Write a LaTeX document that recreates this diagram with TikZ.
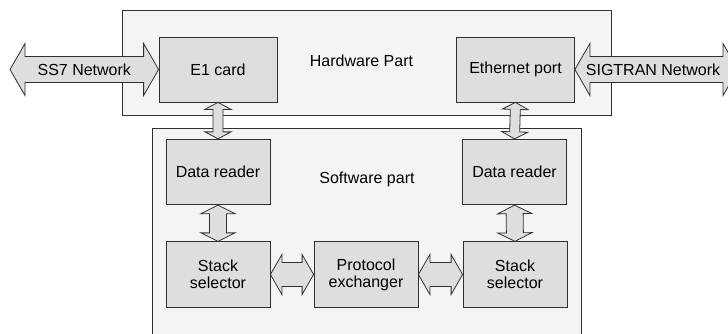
\documentclass[tikz,border=0pt]{standalone}
\usepackage{fontspec}
\setmainfont{Liberation Sans}
\usetikzlibrary{calc}

\definecolor{partfill}{HTML}{F4F4F4}
\definecolor{unitfill}{HTML}{DEDEDE}
\definecolor{edge}{HTML}{303030}

% fat double-headed arrow between two points:
% #1 start, #2 end, #3 head length, #4 head half-width, #5 shaft half-width
\newcommand\fatarrow[5]{%
  \filldraw[arrowbody]
    (#1)
    -- ($(#1)!#3!(#2)!#4!90:(#2)$)
    -- ($(#1)!#3!(#2)!#5!90:(#2)$)
    -- ($(#2)!#3!(#1)!#5!90:(#2)$)
    -- ($(#2)!#3!(#1)!#4!90:(#2)$)
    -- (#2)
    -- ($(#2)!#3!(#1)!#4!-90:(#2)$)
    -- ($(#2)!#3!(#1)!#5!-90:(#2)$)
    -- ($(#1)!#3!(#2)!#5!-90:(#2)$)
    -- ($(#1)!#3!(#2)!#4!-90:(#2)$)
    -- cycle;}

\tikzset{
  part/.style={draw=edge, fill=partfill, line width=0.8pt},
  unit/.style={draw=edge, fill=unitfill, line width=0.8pt, inner sep=0pt,
    align=center, font=\fontsize{16}{17}\selectfont},
  wideunit/.style={unit, minimum width=118pt, minimum height=65pt},
  narrowunit/.style={unit, minimum width=104pt, minimum height=65.5pt},
  arrowbody/.style={draw=edge, fill=unitfill, line width=0.8pt, line join=miter},
  caption/.style={font=\fontsize{16}{17}\selectfont, inner sep=0pt},
}

\begin{document}
\begin{tikzpicture}[x=1pt, y=-1pt]
  \useasboundingbox (0,0) rectangle (728,333);
  \clip (0,0) rectangle (728,333);
  \fill[white] (0,0) rectangle (728,333);

  % the two parts of the system
  \draw[part] (122,10) rectangle (611,115);
  \draw[part] (152,128) rectangle (581,345);
  \node[caption] (hwlabel) at (361.5,61) {Hardware Part};
  \node[caption] (swlabel) at (367,179) {Software part};

  % hardware units
  \node[wideunit] (e1)  at (218,69.5) {E1 card};
  \node[wideunit] (eth) at (515.5,69.5) {Ethernet port};

  % software units
  \node[narrowunit] (dr1) at (218,172) {Data reader};
  \node[narrowunit] (dr2) at (514.5,172) {Data reader};
  \node[narrowunit] (ss1) at (218,274.5) {Stack\\selector};
  \node[narrowunit] (pe)  at (366,274.5) {Protocol\\exchanger};
  \node[narrowunit] (ss2) at (515,274.5) {Stack\\selector};

  % external networks
  \coordinate (ss7end) at (10,69.5);
  \coordinate (sigend) at (738,69.5);
  \fatarrow{ss7end}{e1.west}{15pt}{26pt}{13pt}
  \fatarrow{eth.east}{sigend}{15pt}{26pt}{13pt}
  \node[caption] (ss7) at ($(ss7end)!0.5!(e1.west)$) {SS7 Network};
  \node[caption] (sig) at (653,69.5) {SIGTRAN Network};

  % internal links
  \fatarrow{e1.south}{dr1.north}{7pt}{13pt}{5pt}
  \fatarrow{eth.south}{dr2.north}{7pt}{13pt}{5pt}
  \fatarrow{dr1.south}{ss1.north}{8.5pt}{17pt}{8.5pt}
  \fatarrow{dr2.south}{ss2.north}{8.5pt}{17pt}{8.5pt}
  \fatarrow{ss1.east}{pe.west}{11.5pt}{20pt}{12pt}
  \fatarrow{pe.east}{ss2.west}{11.5pt}{20pt}{12pt}
\end{tikzpicture}
\end{document}
